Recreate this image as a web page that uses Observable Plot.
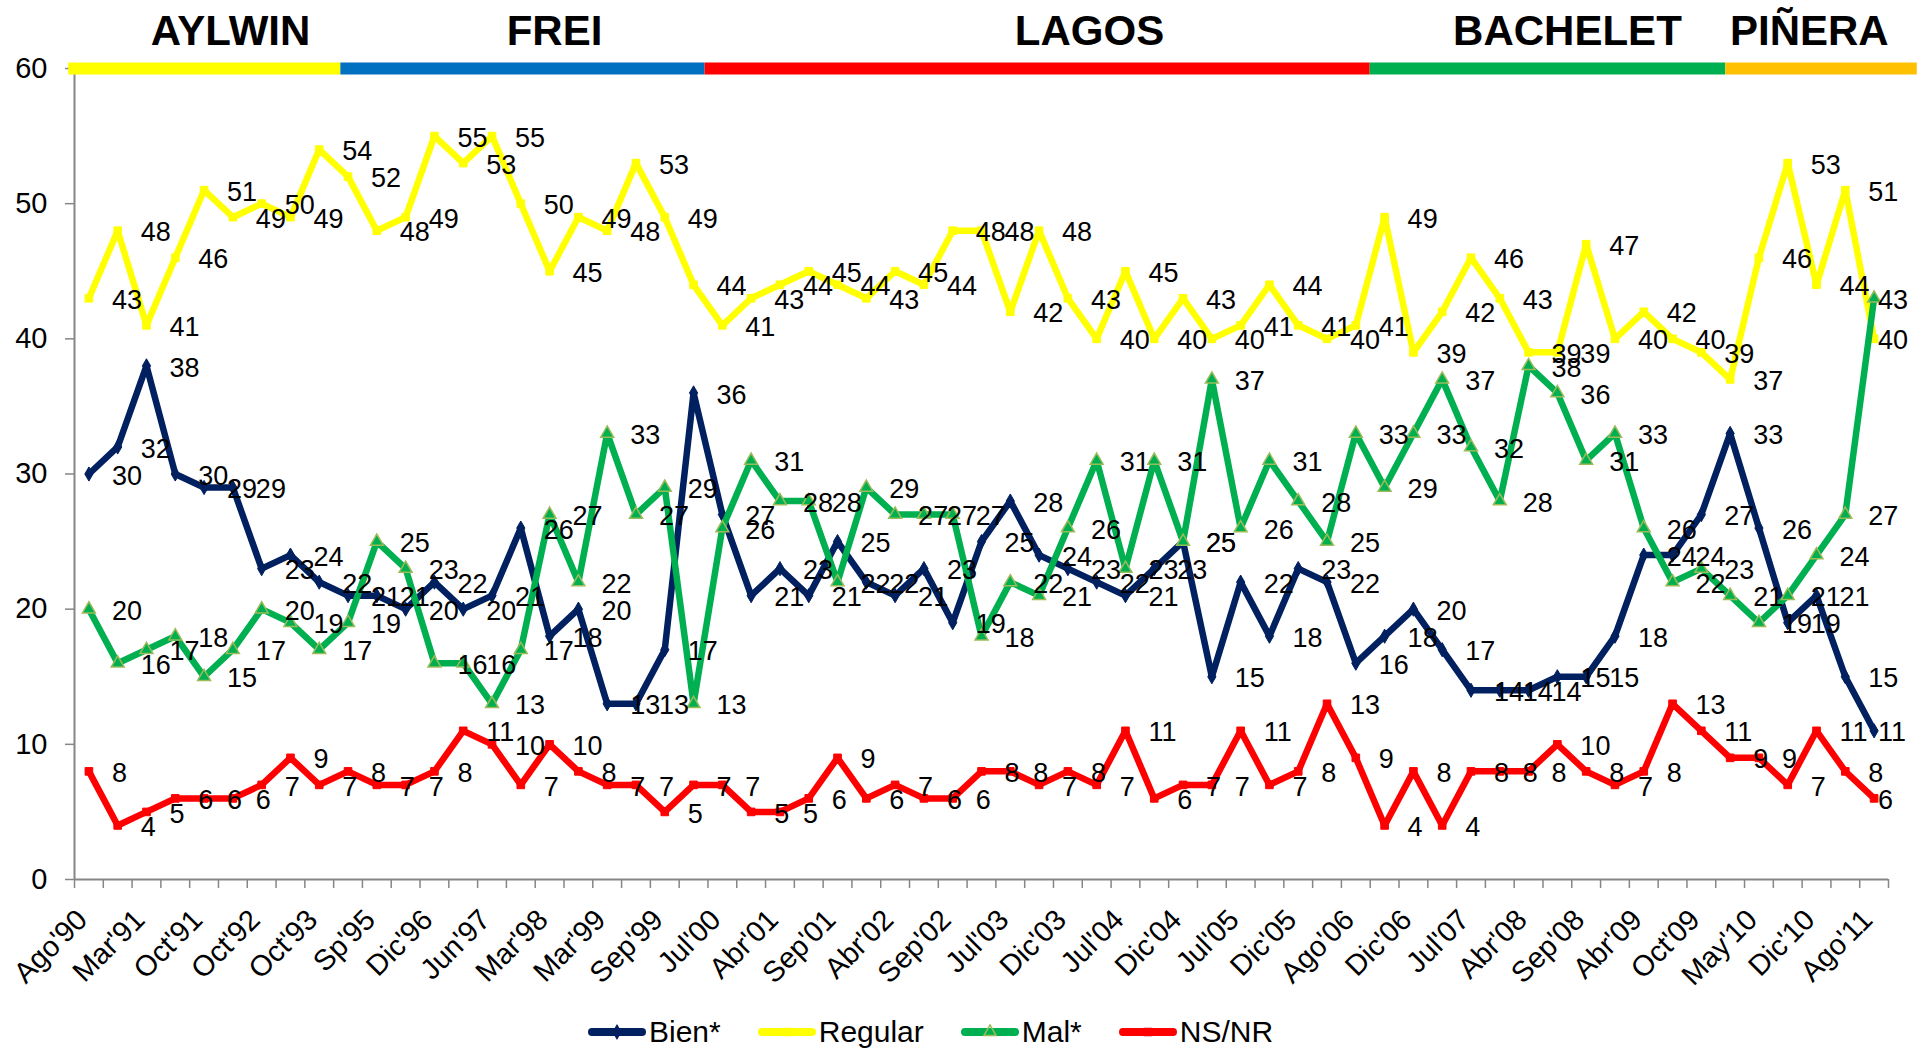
<!DOCTYPE html>
<html>
<head>
<meta charset="utf-8">
<script src="https://cdn.jsdelivr.net/npm/d3@7"></script>
<script src="https://cdn.jsdelivr.net/npm/@observablehq/plot@0.6"></script>
<style>
  html, body { margin: 0; padding: 0; background: #fff; }
  #wrap { position: relative; width: 1921px; height: 1051px; overflow: hidden; }
  #legend { display: flex; align-items: center; height: 51px; box-sizing: border-box; padding-top: 12px; padding-left: 587px;
            font-family: "Liberation Sans", Arial, sans-serif; font-size: 30px; color: #000; }
  .item { display: flex; align-items: center; margin-right: 36px; }
  .item svg { margin-right: 2px; }
</style>
</head>
<body>
<div id="wrap"><div id="chart"></div><div id="legend"></div></div>
<script>
// ---- data ----
const xLabels = ["Ago'90","Mar'91","Oct'91","Oct'92","Oct'93","Sp'95","Dic'96","Jun'97","Mar'98","Mar'99","Sep'99","Jul'00","Abr'01","Sep'01","Abr'02","Sep'02","Jul'03","Dic'03","Jul'04","Dic'04","Jul'05","Dic'05","Ago'06","Dic'06","Jul'07","Abr'08","Sep'08","Abr'09","Oct'09","May'10","Dic'10","Ago'11"];

const bien    = [30,32,38,30,29,29,23,24,22,21,21, 20,22,20,21,26,18,20,13,13,17,36, 27,21,23,21,25,22,21,23,19,25,28, 24,23,22,21,23,25,15,22,18,23, 22,16,18,20,17,14,14,14,15,15,18, 24,24,27,33,26,19,21,15,11];
const regular = [43,48,41,46,51,49,50,49,54,52,48, 49,55,53,55,50,45,49,48,53,49,44, 41,43,44,45,44,43,45,44,48,48,42, 48,43,40,45,40,43,40,41,44,41, 40,41,49,39,42,46,43,39,39,47,40, 42,40,39,37,46,53,44,51,40];
const mal     = [20,16,17,18,15,17,20,19,17,19,25, 23,16,16,13,17,27,22,33,27,29,13, 26,31,28,28,22,29,27,27,27,18,22, 21,26,31,23,31,25,37,26,31,28, 25,33,29,33,37,32,28,38,36,31,33, 26,22,23,21,19,21,24,27,43];
const nsnr    = [8,4,5,6,6,6,7,9,7,8,7, 7,8,11,10,7,10,8,7,7,5,7, 7,5,5,6,9,6,7,6,6,8,8, 7,8,7,11,6,7,7,11,7,8, 13,9,4,8,4,8,8,8,10,8,7, 8,13,11,9,9,7,11,8,6];

const seriesNames = ["Bien*","Regular","Mal*","NS/NR"];
const seriesValues = [bien, regular, mal, nsnr];

const presidents = ["AYLWIN","FREI","LAGOS","BACHELET","PIÑERA"];
const termStart  = [-0.7, 8.75, 21.4, 44.5, 56.85];   // in category-index units
const termEnd    = [8.75, 21.4, 44.5, 56.85, 63.5];
const nameAt     = [4.92, 16.17, 34.75, 51.35, 59.75];

const yTicks = [0,10,20,30,40,50,60];

// ---- styles ----
const seriesColors = ["#002060","#FFFF00","#00B050","#FF0000"];
const seriesSymbols = ["diamond","square","triangle","square"];
const termColors = ["#FFFF00","#0070C0","#FF0000","#00B050","#FFC000"];
const FONT = "'Liberation Sans', Arial, sans-serif";
const AXIS = "#868686";

const n = bien.length;
const idx = d3.range(n);
const halfTicks = d3.range(n + 1).map(i => i - 0.5);
const terms = presidents.map((p, k) => ({name: p, start: termStart[k], end: termEnd[k], at: nameAt[k], color: termColors[k]}));

const marks = [];
// axes lines & ticks
marks.push(Plot.axisX(halfTicks, {tickSize: 9, tickFormat: () => "", stroke: AXIS, strokeWidth: 1.5, label: null}));
marks.push(Plot.axisY(yTicks, {tickSize: 9, tickPadding: 18, fontSize: 29, stroke: AXIS, strokeWidth: 1.5, fill: "#000", label: null}));
marks.push(Plot.ruleX([-0.5], {stroke: AXIS, strokeWidth: 2}));
marks.push(Plot.ruleY([0], {stroke: AXIS, strokeWidth: 2}));
// x category labels
marks.push(Plot.text(xLabels, {x: (d, i) => 2 * i, text: d => d, frameAnchor: "bottom", dy: 42, rotate: -45,
  textAnchor: "end", fontSize: 29, fill: "#000"}));

// lines + markers
seriesValues.forEach((vals, s) => {
  const rows = idx.map(i => ({i, v: vals[i]}));
  marks.push(Plot.line(rows, {x: "i", y: "v", stroke: seriesColors[s], strokeWidth: 6.5, strokeLinejoin: "round"}));
  marks.push(Plot.dot(rows, {x: "i", y: "v", symbol: seriesSymbols[s], r: s === 2 ? 4.8 : 4.3,
    fill: seriesColors[s], stroke: s === 2 ? "#9BBB59" : seriesColors[s], strokeWidth: s === 2 ? 1.5 : 1}));
});

// term bands & president names
terms.forEach(t => {
  marks.push(Plot.ruleY([60], {x1: t.start, x2: t.end, stroke: t.color, strokeWidth: 12}));
});
marks.push(Plot.text(terms, {x: "at", y: 60, text: "name", lineAnchor: "bottom", dy: -24, fontSize: 42, fontWeight: "bold", fill: "#000"}));

// data labels (the last survey's labels sit close to its points, as in the original)
seriesValues.forEach((vals, s) => {
  const rows = idx.map(i => ({i, v: vals[i]}));
  marks.push(Plot.text(rows.slice(0, n - 1), {x: "i", y: "v", text: d => String(d.v), dx: 23, dy: 2, textAnchor: "start", fontSize: 27, fill: "#000"}));
  marks.push(Plot.text(rows.slice(n - 1), {x: "i", y: "v", text: d => String(d.v), dx: 4, dy: 2, textAnchor: "start", fontSize: 27, fill: "#000"}));
});

const chart = Plot.plot({
  width: 1921,
  height: 1000,
  marginLeft: 74,
  marginRight: 33,
  marginTop: 68,
  marginBottom: 121,
  x: {domain: [-0.5, n - 0.5], axis: null},
  y: {domain: [0, 60], axis: null},
  style: {fontFamily: FONT, background: "#fff", overflow: "visible"},
  marks
});
document.getElementById("chart").appendChild(chart);

// legend
const legend = document.getElementById("legend");
seriesNames.forEach((name, s) => {
  const item = document.createElement("div");
  item.className = "item";
  const sym = d3.symbol(d3[{diamond: "symbolDiamond", square: "symbolSquare", triangle: "symbolTriangle"}[seriesSymbols[s]]], s === 2 ? 64 : 50)();
  item.innerHTML = `<svg width="60" height="20" viewBox="0 0 60 20">
    <line x1="5" y1="10" x2="55" y2="10" stroke="${seriesColors[s]}" stroke-width="8" stroke-linecap="round"/>
    <path d="${sym}" transform="translate(30,10)" fill="${s === 2 ? "none" : seriesColors[s]}" stroke="${s === 2 ? "#9BBB59" : seriesColors[s]}" stroke-width="1.5"/>
  </svg><span>${name}</span>`;
  legend.appendChild(item);
});
</script>
</body>
</html>
